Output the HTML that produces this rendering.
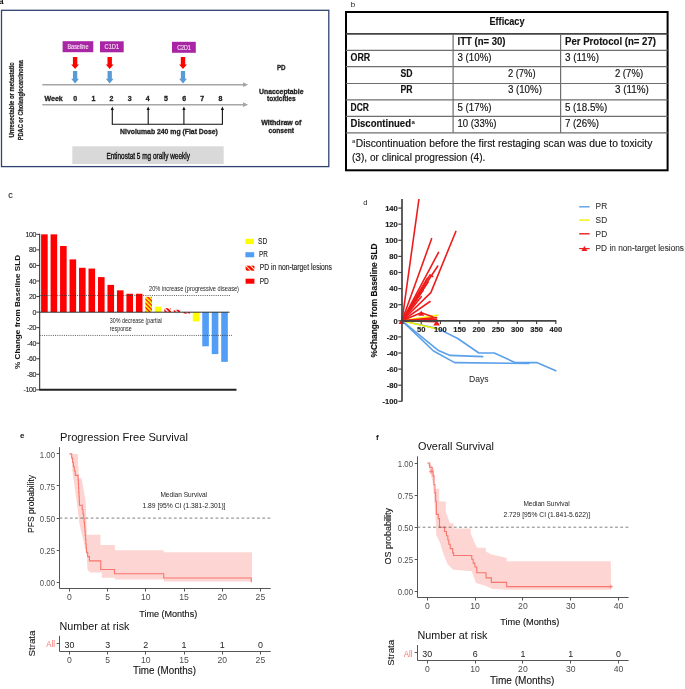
<!DOCTYPE html><html><head><meta charset="utf-8"><style>html,body{margin:0;padding:0;background:#fff;width:685px;height:689px;overflow:hidden}svg{display:block;will-change:transform;font-family:"Liberation Sans",sans-serif}</style></head><body><svg width="685" height="689" viewBox="0 0 685 689"><text x="-1.20" y="3.90" font-size="8.5" font-weight="bold" >a</text>
<rect x="1.5" y="10.3" width="327.3" height="156.3" fill="none" stroke="#2f4470" stroke-width="1.3"/>
<text x="14.40" y="100.00" font-size="7.2" stroke="#222" stroke-width="0.25" font-weight="bold" text-anchor="middle" fill="#222" textLength="75.00" lengthAdjust="spacingAndGlyphs" transform="rotate(-90 14.40 100.00)" >Unresectable or metastatic</text>
<text x="22.60" y="100.20" font-size="7.2" stroke="#222" stroke-width="0.25" font-weight="bold" text-anchor="middle" fill="#222" textLength="80.00" lengthAdjust="spacingAndGlyphs" transform="rotate(-90 22.60 100.20)" >PDAC or Cholangiocarcinoma</text>
<rect x="62.60" y="41.20" width="30.70" height="11.00" fill="#a826a4" />
<text x="77.95" y="49.10" font-size="6.4" stroke="#f4dff3" stroke-width="0.15" text-anchor="middle" fill="#f4dff3" textLength="21.00" lengthAdjust="spacingAndGlyphs" >Baseline</text>
<rect x="100.00" y="41.30" width="23.70" height="11.00" fill="#a826a4" />
<text x="111.85" y="49.20" font-size="6.4" stroke="#f4dff3" stroke-width="0.15" text-anchor="middle" fill="#f4dff3" textLength="14.50" lengthAdjust="spacingAndGlyphs" >C1D1</text>
<rect x="172.00" y="41.80" width="23.80" height="11.00" fill="#a826a4" />
<text x="183.90" y="49.70" font-size="6.4" stroke="#f4dff3" stroke-width="0.15" text-anchor="middle" fill="#f4dff3" textLength="13.50" lengthAdjust="spacingAndGlyphs" >C2D1</text>
<path d="M72.90,57.00 L77.30,57.00 L77.30,64.40 L79.00,64.40 L75.10,69.00 L71.20,64.40 L72.90,64.40 Z" stroke="none" fill="#ff0000" stroke-width="1" />
<path d="M72.95,71.10 L77.25,71.10 L77.25,78.80 L79.00,78.80 L75.10,83.40 L71.20,78.80 L72.95,78.80 Z" stroke="none" fill="#5b9bd5" stroke-width="1" />
<path d="M107.50,57.00 L111.90,57.00 L111.90,64.40 L113.60,64.40 L109.70,69.00 L105.80,64.40 L107.50,64.40 Z" stroke="none" fill="#ff0000" stroke-width="1" />
<path d="M107.55,71.10 L111.85,71.10 L111.85,78.80 L113.60,78.80 L109.70,83.40 L105.80,78.80 L107.55,78.80 Z" stroke="none" fill="#5b9bd5" stroke-width="1" />
<path d="M180.80,57.00 L185.20,57.00 L185.20,64.40 L186.90,64.40 L183.00,69.00 L179.10,64.40 L180.80,64.40 Z" stroke="none" fill="#ff0000" stroke-width="1" />
<path d="M180.85,71.10 L185.15,71.10 L185.15,78.80 L186.90,78.80 L183.00,83.40 L179.10,78.80 L180.85,78.80 Z" stroke="none" fill="#5b9bd5" stroke-width="1" />
<line x1="42.30" y1="84.70" x2="245.00" y2="84.70" stroke="#a6a6a6" stroke-width="1.4" />
<path d="M243.00,82.30 L248.20,84.70 L243.00,87.10 Z" stroke="none" fill="#a6a6a6" stroke-width="1" />
<line x1="42.30" y1="104.70" x2="245.00" y2="104.70" stroke="#a6a6a6" stroke-width="1.4" />
<path d="M243.00,102.30 L248.20,104.70 L243.00,107.10 Z" stroke="none" fill="#a6a6a6" stroke-width="1" />
<text x="44.50" y="100.60" font-size="7" stroke="#222" stroke-width="0.3" font-weight="bold" fill="#222" textLength="18.30" lengthAdjust="spacingAndGlyphs" >Week</text>
<text x="75.20" y="100.60" font-size="7" stroke="#222" stroke-width="0.3" font-weight="bold" text-anchor="middle" fill="#222" >0</text>
<text x="93.35" y="100.60" font-size="7" stroke="#222" stroke-width="0.3" font-weight="bold" text-anchor="middle" fill="#222" >1</text>
<text x="111.50" y="100.60" font-size="7" stroke="#222" stroke-width="0.3" font-weight="bold" text-anchor="middle" fill="#222" >2</text>
<text x="129.65" y="100.60" font-size="7" stroke="#222" stroke-width="0.3" font-weight="bold" text-anchor="middle" fill="#222" >3</text>
<text x="147.80" y="100.60" font-size="7" stroke="#222" stroke-width="0.3" font-weight="bold" text-anchor="middle" fill="#222" >4</text>
<text x="165.95" y="100.60" font-size="7" stroke="#222" stroke-width="0.3" font-weight="bold" text-anchor="middle" fill="#222" >5</text>
<text x="184.10" y="100.60" font-size="7" stroke="#222" stroke-width="0.3" font-weight="bold" text-anchor="middle" fill="#222" >6</text>
<text x="202.25" y="100.60" font-size="7" stroke="#222" stroke-width="0.3" font-weight="bold" text-anchor="middle" fill="#222" >7</text>
<text x="220.40" y="100.60" font-size="7" stroke="#222" stroke-width="0.3" font-weight="bold" text-anchor="middle" fill="#222" >8</text>
<line x1="112.30" y1="108.60" x2="112.30" y2="124.30" stroke="#111" stroke-width="1.1" />
<path d="M110.70,110.00 L112.30,106.60 L113.90,110.00 Z" stroke="none" fill="#111" stroke-width="1" />
<line x1="148.20" y1="108.60" x2="148.20" y2="124.30" stroke="#111" stroke-width="1.1" />
<path d="M146.60,110.00 L148.20,106.60 L149.80,110.00 Z" stroke="none" fill="#111" stroke-width="1" />
<line x1="183.90" y1="108.60" x2="183.90" y2="124.30" stroke="#111" stroke-width="1.1" />
<path d="M182.30,110.00 L183.90,106.60 L185.50,110.00 Z" stroke="none" fill="#111" stroke-width="1" />
<line x1="222.40" y1="108.60" x2="222.40" y2="124.30" stroke="#111" stroke-width="1.1" />
<path d="M220.80,110.00 L222.40,106.60 L224.00,110.00 Z" stroke="none" fill="#111" stroke-width="1" />
<line x1="111.80" y1="124.30" x2="222.90" y2="124.30" stroke="#111" stroke-width="1.1" />
<text x="120.10" y="133.90" font-size="7.2" stroke="#222" stroke-width="0.3" font-weight="bold" fill="#222" textLength="97.80" lengthAdjust="spacingAndGlyphs" >Nivolumab 240 mg (Flat Dose)</text>
<rect x="72.30" y="146.30" width="151.40" height="17.70" fill="#d9d9d9" />
<text x="106.40" y="158.60" font-size="8.4" stroke="#111" stroke-width="0.35" fill="#111" textLength="83.50" lengthAdjust="spacingAndGlyphs" >Entinostat 5 mg orally weekly</text>
<text x="281.30" y="69.60" font-size="7" stroke="#222" stroke-width="0.3" font-weight="bold" text-anchor="middle" fill="#222" textLength="8.70" lengthAdjust="spacingAndGlyphs" >PD</text>
<text x="281.30" y="93.50" font-size="7" stroke="#222" stroke-width="0.3" font-weight="bold" text-anchor="middle" fill="#222" textLength="44.40" lengthAdjust="spacingAndGlyphs" >Unacceptable</text>
<text x="281.30" y="100.90" font-size="7" stroke="#222" stroke-width="0.3" font-weight="bold" text-anchor="middle" fill="#222" textLength="28.50" lengthAdjust="spacingAndGlyphs" >toxicities</text>
<text x="281.30" y="124.80" font-size="7" stroke="#222" stroke-width="0.3" font-weight="bold" text-anchor="middle" fill="#222" textLength="40.30" lengthAdjust="spacingAndGlyphs" >Withdraw of</text>
<text x="281.30" y="132.70" font-size="7" stroke="#222" stroke-width="0.3" font-weight="bold" text-anchor="middle" fill="#222" textLength="25.40" lengthAdjust="spacingAndGlyphs" >consent</text>
<text x="350.70" y="7.10" font-size="8" fill="#222" >b</text>
<rect x="346.0" y="12.0" width="321.6" height="158.3" fill="none" stroke="#000" stroke-width="2"/>
<line x1="345.80" y1="33.90" x2="667.60" y2="33.90" stroke="#444" stroke-width="1.6" />
<line x1="345.80" y1="50.40" x2="667.60" y2="50.40" stroke="#6e6e6e" stroke-width="1.2" />
<line x1="345.80" y1="66.70" x2="667.60" y2="66.70" stroke="#6e6e6e" stroke-width="1.2" />
<line x1="345.80" y1="83.50" x2="667.60" y2="83.50" stroke="#6e6e6e" stroke-width="1.2" />
<line x1="345.80" y1="99.80" x2="667.60" y2="99.80" stroke="#6e6e6e" stroke-width="1.2" />
<line x1="345.80" y1="116.30" x2="667.60" y2="116.30" stroke="#6e6e6e" stroke-width="1.2" />
<line x1="345.80" y1="132.80" x2="667.60" y2="132.80" stroke="#6e6e6e" stroke-width="1.2" />
<line x1="453.10" y1="33.90" x2="453.10" y2="132.80" stroke="#6e6e6e" stroke-width="1.2" />
<line x1="560.60" y1="33.90" x2="560.60" y2="132.80" stroke="#6e6e6e" stroke-width="1.2" />
<text x="507.00" y="24.80" font-size="10.5" stroke="#111" stroke-width="0.15" font-weight="bold" text-anchor="middle" fill="#111" textLength="35.00" lengthAdjust="spacingAndGlyphs" >Efficacy</text>
<text x="457.50" y="44.80" font-size="10.5" stroke="#111" stroke-width="0.15" font-weight="bold" fill="#111" textLength="48.00" lengthAdjust="spacingAndGlyphs" >ITT (n= 30)</text>
<text x="565.00" y="44.80" font-size="10.5" stroke="#111" stroke-width="0.15" font-weight="bold" fill="#111" textLength="91.00" lengthAdjust="spacingAndGlyphs" >Per Protocol (n= 27)</text>
<text x="350.50" y="61.00" font-size="10.5" stroke="#111" stroke-width="0.15" font-weight="bold" fill="#111" textLength="19.70" lengthAdjust="spacingAndGlyphs" >ORR</text>
<text x="457.50" y="61.00" font-size="10.5" stroke="#111" stroke-width="0.15" fill="#111" textLength="34.00" lengthAdjust="spacingAndGlyphs" >3 (10%)</text>
<text x="565.00" y="61.00" font-size="10.5" stroke="#111" stroke-width="0.15" fill="#111" textLength="34.00" lengthAdjust="spacingAndGlyphs" >3 (11%)</text>
<text x="400.60" y="77.40" font-size="10.5" stroke="#111" stroke-width="0.15" font-weight="bold" fill="#111" textLength="12.00" lengthAdjust="spacingAndGlyphs" >SD</text>
<text x="507.90" y="77.40" font-size="10.5" stroke="#111" stroke-width="0.15" fill="#111" textLength="27.70" lengthAdjust="spacingAndGlyphs" >2 (7%)</text>
<text x="614.90" y="77.40" font-size="10.5" stroke="#111" stroke-width="0.15" fill="#111" textLength="28.20" lengthAdjust="spacingAndGlyphs" >2 (7%)</text>
<text x="400.60" y="93.40" font-size="10.5" stroke="#111" stroke-width="0.15" font-weight="bold" fill="#111" textLength="12.00" lengthAdjust="spacingAndGlyphs" >PR</text>
<text x="507.90" y="93.40" font-size="10.5" stroke="#111" stroke-width="0.15" fill="#111" textLength="34.00" lengthAdjust="spacingAndGlyphs" >3 (10%)</text>
<text x="614.90" y="93.40" font-size="10.5" stroke="#111" stroke-width="0.15" fill="#111" textLength="33.90" lengthAdjust="spacingAndGlyphs" >3 (11%)</text>
<text x="350.50" y="110.70" font-size="10.5" stroke="#111" stroke-width="0.15" font-weight="bold" fill="#111" textLength="18.40" lengthAdjust="spacingAndGlyphs" >DCR</text>
<text x="457.50" y="110.70" font-size="10.5" stroke="#111" stroke-width="0.15" fill="#111" textLength="34.00" lengthAdjust="spacingAndGlyphs" >5 (17%)</text>
<text x="565.00" y="110.70" font-size="10.5" stroke="#111" stroke-width="0.15" fill="#111" textLength="42.20" lengthAdjust="spacingAndGlyphs" >5 (18.5%)</text>
<text x="350.50" y="127.20" font-size="10.5" stroke="#111" stroke-width="0.15" font-weight="bold" fill="#111" textLength="60.50" lengthAdjust="spacingAndGlyphs" >Discontinued</text>
<text x="411.40" y="123.60" font-size="6" font-weight="bold" fill="#111" >a</text>
<text x="457.50" y="127.20" font-size="10.5" stroke="#111" stroke-width="0.15" fill="#111" textLength="39.00" lengthAdjust="spacingAndGlyphs" >10 (33%)</text>
<text x="565.00" y="127.20" font-size="10.5" stroke="#111" stroke-width="0.15" fill="#111" textLength="34.00" lengthAdjust="spacingAndGlyphs" >7 (26%)</text>
<text x="352.00" y="143.00" font-size="6" fill="#111" >a</text>
<text x="355.80" y="146.50" font-size="10.8" stroke="#111" stroke-width="0.15" fill="#111" textLength="296.60" lengthAdjust="spacingAndGlyphs" >Discontinuation before the first restaging scan was due to toxicity</text>
<text x="352.00" y="160.80" font-size="10.8" stroke="#111" stroke-width="0.15" fill="#111" textLength="133.30" lengthAdjust="spacingAndGlyphs" >(3), or clinical progression (4).</text>
<text x="8.30" y="198.10" font-size="9" stroke="#222" stroke-width="0.1" fill="#222" >c</text>
<defs><pattern id="hatch" patternUnits="userSpaceOnUse" width="3" height="3" patternTransform="rotate(45)"><rect width="3" height="3" fill="#ffff00"/><rect width="3" height="1.25" fill="#ff0000"/></pattern><pattern id="hatch3" patternUnits="userSpaceOnUse" width="3.4" height="3.4" patternTransform="rotate(45)"><rect width="3.4" height="3.4" fill="#ff0000"/><rect width="3.4" height="1.0" fill="#fff8c0"/></pattern><pattern id="hatch2" patternUnits="userSpaceOnUse" width="3.2" height="3.2" patternTransform="rotate(45)"><rect width="3.2" height="3.2" fill="#ffffff"/><rect width="3.2" height="1.9" fill="#ff0000"/></pattern></defs>
<rect x="41.10" y="234.35" width="6.60" height="77.75" fill="#ff0000" />
<rect x="50.58" y="234.35" width="6.60" height="77.75" fill="#ff0000" />
<rect x="60.06" y="246.01" width="6.60" height="66.09" fill="#ff0000" />
<rect x="69.54" y="259.39" width="6.60" height="52.71" fill="#ff0000" />
<rect x="79.02" y="267.78" width="6.60" height="44.32" fill="#ff0000" />
<rect x="88.50" y="268.56" width="6.60" height="43.54" fill="#ff0000" />
<rect x="97.98" y="277.11" width="6.60" height="34.99" fill="#ff0000" />
<rect x="107.46" y="284.89" width="6.60" height="27.21" fill="#ff0000" />
<rect x="116.94" y="290.33" width="6.60" height="21.77" fill="#ff0000" />
<rect x="126.42" y="293.75" width="6.60" height="18.35" fill="#ff0000" />
<rect x="135.90" y="293.75" width="6.60" height="18.35" fill="#ff0000" />
<rect x="145.38" y="296.86" width="6.60" height="15.24" fill="url(#hatch)" />
<rect x="154.86" y="306.66" width="6.60" height="5.44" fill="#ffff00" />
<rect x="164.34" y="308.21" width="6.60" height="3.89" fill="url(#hatch2)" />
<rect x="173.82" y="309.77" width="6.60" height="2.33" fill="url(#hatch2)" />
<rect x="183.30" y="312.10" width="6.60" height="1.56" fill="url(#hatch2)" />
<rect x="192.78" y="312.10" width="6.60" height="9.33" fill="#ffff00" />
<rect x="202.26" y="312.10" width="6.60" height="34.21" fill="#529ef6" />
<rect x="211.74" y="312.10" width="6.60" height="41.99" fill="#529ef6" />
<rect x="221.22" y="312.10" width="6.60" height="49.76" fill="#529ef6" />
<line x1="39.70" y1="233.80" x2="39.70" y2="390.50" stroke="#222" stroke-width="1.0" />
<line x1="36.40" y1="234.35" x2="39.70" y2="234.35" stroke="#222" stroke-width="0.9" />
<text x="36.20" y="236.85" font-size="7" stroke="#222" stroke-width="0.12" text-anchor="end" fill="#222" letter-spacing="-0.3">100</text>
<line x1="36.40" y1="249.90" x2="39.70" y2="249.90" stroke="#222" stroke-width="0.9" />
<text x="36.20" y="252.40" font-size="7" stroke="#222" stroke-width="0.12" text-anchor="end" fill="#222" letter-spacing="-0.3">80</text>
<line x1="36.40" y1="265.45" x2="39.70" y2="265.45" stroke="#222" stroke-width="0.9" />
<text x="36.20" y="267.95" font-size="7" stroke="#222" stroke-width="0.12" text-anchor="end" fill="#222" letter-spacing="-0.3">60</text>
<line x1="36.40" y1="281.00" x2="39.70" y2="281.00" stroke="#222" stroke-width="0.9" />
<text x="36.20" y="283.50" font-size="7" stroke="#222" stroke-width="0.12" text-anchor="end" fill="#222" letter-spacing="-0.3">40</text>
<line x1="36.40" y1="296.55" x2="39.70" y2="296.55" stroke="#222" stroke-width="0.9" />
<text x="36.20" y="299.05" font-size="7" stroke="#222" stroke-width="0.12" text-anchor="end" fill="#222" letter-spacing="-0.3">20</text>
<line x1="36.40" y1="312.10" x2="39.70" y2="312.10" stroke="#222" stroke-width="0.9" />
<text x="36.20" y="314.60" font-size="7" stroke="#222" stroke-width="0.12" text-anchor="end" fill="#222" letter-spacing="-0.3">0</text>
<line x1="36.40" y1="327.65" x2="39.70" y2="327.65" stroke="#222" stroke-width="0.9" />
<text x="36.20" y="330.15" font-size="7" stroke="#222" stroke-width="0.12" text-anchor="end" fill="#222" letter-spacing="-0.3">-20</text>
<line x1="36.40" y1="343.20" x2="39.70" y2="343.20" stroke="#222" stroke-width="0.9" />
<text x="36.20" y="345.70" font-size="7" stroke="#222" stroke-width="0.12" text-anchor="end" fill="#222" letter-spacing="-0.3">-40</text>
<line x1="36.40" y1="358.75" x2="39.70" y2="358.75" stroke="#222" stroke-width="0.9" />
<text x="36.20" y="361.25" font-size="7" stroke="#222" stroke-width="0.12" text-anchor="end" fill="#222" letter-spacing="-0.3">-60</text>
<line x1="36.40" y1="374.30" x2="39.70" y2="374.30" stroke="#222" stroke-width="0.9" />
<text x="36.20" y="376.80" font-size="7" stroke="#222" stroke-width="0.12" text-anchor="end" fill="#222" letter-spacing="-0.3">-80</text>
<line x1="36.40" y1="389.85" x2="39.70" y2="389.85" stroke="#222" stroke-width="0.9" />
<text x="36.20" y="392.35" font-size="7" stroke="#222" stroke-width="0.12" text-anchor="end" fill="#222" letter-spacing="-0.3">-100</text>
<line x1="39.70" y1="312.20" x2="229.50" y2="312.20" stroke="#333" stroke-width="1.0" />
<line x1="39.70" y1="389.70" x2="236.50" y2="389.70" stroke="#222" stroke-width="2.0" />
<line x1="39.70" y1="295.50" x2="231.00" y2="295.50" stroke="#333" stroke-width="0.8" stroke-dasharray="1,1.2"/>
<line x1="39.70" y1="335.43" x2="232.00" y2="335.43" stroke="#333" stroke-width="0.8" stroke-dasharray="1,1.2"/>
<text x="149.00" y="291.20" font-size="6.6" fill="#222" textLength="90.00" lengthAdjust="spacingAndGlyphs" >20% increase (progressive disease)</text>
<text x="109.80" y="322.80" font-size="6.6" fill="#222" textLength="52.00" lengthAdjust="spacingAndGlyphs" >30% decrease (partial</text>
<text x="109.80" y="331.00" font-size="6.6" fill="#222" textLength="21.90" lengthAdjust="spacingAndGlyphs" >response</text>
<text x="20.30" y="312.00" font-size="7.7" font-weight="bold" text-anchor="middle" fill="#111" textLength="114.00" lengthAdjust="spacingAndGlyphs" transform="rotate(-90 20.30 312.00)" >% Change from Baseline SLD</text>
<rect x="245.20" y="238.80" width="8.80" height="5.30" fill="#ffff00" />
<text x="258.10" y="243.80" font-size="8.2" stroke="#222" stroke-width="0.12" fill="#222" textLength="9.20" lengthAdjust="spacingAndGlyphs" >SD</text>
<rect x="245.40" y="252.20" width="8.80" height="5.10" fill="#529ef6" />
<text x="259.00" y="257.20" font-size="8.2" stroke="#222" stroke-width="0.12" fill="#222" textLength="8.80" lengthAdjust="spacingAndGlyphs" >PR</text>
<rect x="245.60" y="265.70" width="8.80" height="5.00" fill="url(#hatch3)" />
<text x="259.70" y="270.30" font-size="8.2" stroke="#222" stroke-width="0.12" fill="#222" textLength="72.30" lengthAdjust="spacingAndGlyphs" >PD in non-target lesions</text>
<rect x="245.60" y="278.70" width="8.80" height="5.00" fill="#ff0000" />
<text x="259.70" y="284.00" font-size="8.2" stroke="#222" stroke-width="0.12" fill="#222" textLength="9.20" lengthAdjust="spacingAndGlyphs" >PD</text>
<text x="363.20" y="204.60" font-size="7.5" fill="#222" >d</text>
<defs><clipPath id="dclip"><rect x="395" y="199" width="200" height="210"/></clipPath></defs>
<g clip-path="url(#dclip)" stroke-linejoin="round" stroke-linecap="round" fill="none">
<path d="M402.00,320.80 L438.53,328.85 L457.75,338.51 L478.90,353.00 L494.28,353.00 L515.43,362.66 L537.34,362.66 L555.80,370.71" stroke="#5aa0ea" fill="none" stroke-width="1.6" />
<path d="M402.00,320.80 L438.53,350.59 L450.06,355.42 L482.75,356.62" stroke="#5aa0ea" fill="none" stroke-width="1.6" />
<path d="M402.00,320.80 L433.53,350.99 L454.68,362.66 L528.88,363.47" stroke="#5aa0ea" fill="none" stroke-width="1.6" />
<path d="M402.00,320.80 L438.53,329.25" stroke="#f2f200" fill="none" stroke-width="1.6" />
<path d="M402.00,320.80 L437.76,315.17" stroke="#f2f200" fill="none" stroke-width="1.6" />
<path d="M402.00,320.80 L434.68,316.78" stroke="#f2f200" fill="none" stroke-width="1.3" />
<path d="M402.00,320.80 L418.92,199.25" stroke="#ee1c1c" fill="none" stroke-width="1.6" />
<path d="M402.00,320.80 L431.61,238.69" stroke="#ee1c1c" fill="none" stroke-width="1.6" />
<path d="M402.00,320.80 L438.53,252.38" stroke="#ee1c1c" fill="none" stroke-width="1.6" />
<path d="M402.00,320.80 L430.84,292.62 L455.83,231.44" stroke="#ee1c1c" fill="none" stroke-width="1.6" />
<path d="M402.00,320.80 L437.76,266.06" stroke="#ee1c1c" fill="none" stroke-width="1.6" />
<path d="M402.00,320.80 L430.07,274.92 L432.76,276.52" stroke="#ee1c1c" fill="none" stroke-width="1.6" />
<path d="M402.00,320.80 L428.15,282.16" stroke="#ee1c1c" fill="none" stroke-width="1.6" />
<path d="M402.00,320.80 L425.07,286.19" stroke="#ee1c1c" fill="none" stroke-width="1.6" />
<path d="M402.00,320.80 L427.38,278.13" stroke="#ee1c1c" fill="none" stroke-width="1.6" />
<path d="M402.00,320.80 L423.15,290.21" stroke="#ee1c1c" fill="none" stroke-width="1.6" />
<path d="M402.00,320.80 L421.23,296.65" stroke="#ee1c1c" fill="none" stroke-width="1.6" />
<path d="M402.00,320.80 L430.07,301.48" stroke="#ee1c1c" fill="none" stroke-width="1.6" />
<path d="M402.00,320.80 L421.23,312.75 L432.76,316.78" stroke="#ee1c1c" fill="none" stroke-width="1.6" />
<path d="M402.00,320.80 L436.61,317.58" stroke="#ee1c1c" fill="none" stroke-width="1.6" />
<path d="M402.00,320.80 L436.61,319.19" stroke="#ee1c1c" fill="none" stroke-width="1.6" />
<path d="M402.00,320.80 L435.84,321.61" stroke="#ee1c1c" fill="none" stroke-width="1.6" />
<path d="M402.00,320.80 L436.61,320.80" stroke="#6a1a1a" fill="none" stroke-width="1.4" />
</g>
<path d="M418.23,315.65 L421.23,310.55 L424.23,315.65 Z" stroke="none" fill="#ee1c1c" stroke-width="1" />
<path d="M433.31,325.45 L436.61,319.84 L439.91,325.45 Z" stroke="none" fill="#ee1c1c" stroke-width="1" />
<path d="M398.50,324.00 L401.50,318.91 L404.50,324.00 Z" stroke="none" fill="#ee1c1c" stroke-width="1" />
<line x1="402.00" y1="199.00" x2="402.00" y2="401.60" stroke="#444" stroke-width="1.7" />
<line x1="398.30" y1="208.10" x2="402.00" y2="208.10" stroke="#444" stroke-width="1.2" />
<text x="397.80" y="210.90" font-size="7.6" stroke="#222" stroke-width="0.15" font-weight="bold" text-anchor="end" fill="#222" >140</text>
<line x1="398.30" y1="224.20" x2="402.00" y2="224.20" stroke="#444" stroke-width="1.2" />
<text x="397.80" y="227.00" font-size="7.6" stroke="#222" stroke-width="0.15" font-weight="bold" text-anchor="end" fill="#222" >120</text>
<line x1="398.30" y1="240.30" x2="402.00" y2="240.30" stroke="#444" stroke-width="1.2" />
<text x="397.80" y="243.10" font-size="7.6" stroke="#222" stroke-width="0.15" font-weight="bold" text-anchor="end" fill="#222" >100</text>
<line x1="398.30" y1="256.40" x2="402.00" y2="256.40" stroke="#444" stroke-width="1.2" />
<text x="397.80" y="259.20" font-size="7.6" stroke="#222" stroke-width="0.15" font-weight="bold" text-anchor="end" fill="#222" >80</text>
<line x1="398.30" y1="272.50" x2="402.00" y2="272.50" stroke="#444" stroke-width="1.2" />
<text x="397.80" y="275.30" font-size="7.6" stroke="#222" stroke-width="0.15" font-weight="bold" text-anchor="end" fill="#222" >60</text>
<line x1="398.30" y1="288.60" x2="402.00" y2="288.60" stroke="#444" stroke-width="1.2" />
<text x="397.80" y="291.40" font-size="7.6" stroke="#222" stroke-width="0.15" font-weight="bold" text-anchor="end" fill="#222" >40</text>
<line x1="398.30" y1="304.70" x2="402.00" y2="304.70" stroke="#444" stroke-width="1.2" />
<text x="397.80" y="307.50" font-size="7.6" stroke="#222" stroke-width="0.15" font-weight="bold" text-anchor="end" fill="#222" >20</text>
<line x1="398.30" y1="320.80" x2="402.00" y2="320.80" stroke="#444" stroke-width="1.2" />
<text x="397.80" y="323.60" font-size="7.6" stroke="#222" stroke-width="0.15" font-weight="bold" text-anchor="end" fill="#222" >0</text>
<line x1="398.30" y1="336.90" x2="402.00" y2="336.90" stroke="#444" stroke-width="1.2" />
<text x="397.80" y="339.70" font-size="7.6" stroke="#222" stroke-width="0.15" font-weight="bold" text-anchor="end" fill="#222" >-20</text>
<line x1="398.30" y1="353.00" x2="402.00" y2="353.00" stroke="#444" stroke-width="1.2" />
<text x="397.80" y="355.80" font-size="7.6" stroke="#222" stroke-width="0.15" font-weight="bold" text-anchor="end" fill="#222" >-40</text>
<line x1="398.30" y1="369.10" x2="402.00" y2="369.10" stroke="#444" stroke-width="1.2" />
<text x="397.80" y="371.90" font-size="7.6" stroke="#222" stroke-width="0.15" font-weight="bold" text-anchor="end" fill="#222" >-60</text>
<line x1="398.30" y1="385.20" x2="402.00" y2="385.20" stroke="#444" stroke-width="1.2" />
<text x="397.80" y="388.00" font-size="7.6" stroke="#222" stroke-width="0.15" font-weight="bold" text-anchor="end" fill="#222" >-80</text>
<line x1="398.30" y1="401.30" x2="402.00" y2="401.30" stroke="#444" stroke-width="1.2" />
<text x="397.80" y="404.10" font-size="7.6" stroke="#222" stroke-width="0.15" font-weight="bold" text-anchor="end" fill="#222" >-100</text>
<line x1="402.00" y1="320.80" x2="556.30" y2="320.80" stroke="#444" stroke-width="1.7" />
<line x1="421.23" y1="320.80" x2="421.23" y2="324.10" stroke="#444" stroke-width="1.2" />
<text x="421.23" y="332.00" font-size="7.6" stroke="#222" stroke-width="0.15" font-weight="bold" text-anchor="middle" fill="#222" >50</text>
<line x1="440.45" y1="320.80" x2="440.45" y2="324.10" stroke="#444" stroke-width="1.2" />
<text x="440.45" y="332.00" font-size="7.6" stroke="#222" stroke-width="0.15" font-weight="bold" text-anchor="middle" fill="#222" >100</text>
<line x1="459.68" y1="320.80" x2="459.68" y2="324.10" stroke="#444" stroke-width="1.2" />
<text x="459.68" y="332.00" font-size="7.6" stroke="#222" stroke-width="0.15" font-weight="bold" text-anchor="middle" fill="#222" >150</text>
<line x1="478.90" y1="320.80" x2="478.90" y2="324.10" stroke="#444" stroke-width="1.2" />
<text x="478.90" y="332.00" font-size="7.6" stroke="#222" stroke-width="0.15" font-weight="bold" text-anchor="middle" fill="#222" >200</text>
<line x1="498.12" y1="320.80" x2="498.12" y2="324.10" stroke="#444" stroke-width="1.2" />
<text x="498.12" y="332.00" font-size="7.6" stroke="#222" stroke-width="0.15" font-weight="bold" text-anchor="middle" fill="#222" >250</text>
<line x1="517.35" y1="320.80" x2="517.35" y2="324.10" stroke="#444" stroke-width="1.2" />
<text x="517.35" y="332.00" font-size="7.6" stroke="#222" stroke-width="0.15" font-weight="bold" text-anchor="middle" fill="#222" >300</text>
<line x1="536.58" y1="320.80" x2="536.58" y2="324.10" stroke="#444" stroke-width="1.2" />
<text x="536.58" y="332.00" font-size="7.6" stroke="#222" stroke-width="0.15" font-weight="bold" text-anchor="middle" fill="#222" >350</text>
<line x1="555.80" y1="320.80" x2="555.80" y2="324.10" stroke="#444" stroke-width="1.2" />
<text x="555.80" y="332.00" font-size="7.6" stroke="#222" stroke-width="0.15" font-weight="bold" text-anchor="middle" fill="#222" >400</text>
<text x="478.80" y="382.00" font-size="8.6" text-anchor="middle" fill="#222" >Days</text>
<text x="376.80" y="300.40" font-size="8.2" stroke="#111" stroke-width="0.15" font-weight="bold" text-anchor="middle" fill="#111" textLength="114.00" lengthAdjust="spacingAndGlyphs" transform="rotate(-90 376.80 300.40)" >%Change from Baseline SLD</text>
<line x1="579.20" y1="206.80" x2="589.60" y2="206.80" stroke="#5aa0ea" stroke-width="1.4" />
<text x="595.60" y="209.40" font-size="8.3" stroke="#333" stroke-width="0.1" fill="#333" >PR</text>
<line x1="579.20" y1="220.10" x2="589.60" y2="220.10" stroke="#f2f200" stroke-width="1.4" />
<text x="595.60" y="223.00" font-size="8.3" stroke="#333" stroke-width="0.1" fill="#333" >SD</text>
<line x1="579.20" y1="233.80" x2="589.60" y2="233.80" stroke="#ee1c1c" stroke-width="1.4" />
<text x="595.60" y="236.70" font-size="8.3" stroke="#333" stroke-width="0.1" fill="#333" >PD</text>
<line x1="579.20" y1="248.60" x2="589.60" y2="248.60" stroke="#ee1c1c" stroke-width="1.2" />
<path d="M581.40,251.00 L584.40,245.90 L587.40,251.00 Z" stroke="none" fill="#ee1c1c" stroke-width="1" />
<text x="595.60" y="250.90" font-size="8.3" stroke="#333" stroke-width="0.1" fill="#333" textLength="88.40" lengthAdjust="spacingAndGlyphs" >PD in non-target lesions</text>
<text x="20.00" y="438.20" font-size="8" font-weight="bold" fill="#111" >e</text>
<text x="60.00" y="441.20" font-size="10.5" fill="#111" textLength="128.00" lengthAdjust="spacingAndGlyphs" >Progression Free Survival</text>
<path d="M71.23,453.90 L77.88,453.90 L78.87,478.30 L81.62,478.30 L85.52,500.12 L86.82,529.66 L86.82,534.79 L100.49,534.79 L100.49,545.06 L114.86,545.06 L114.86,550.20 L163.75,550.20 L163.75,552.13 L252.00,552.13 L252.00,581.40 L163.75,581.40 L163.75,579.48 L114.86,579.48 L114.86,577.68 L101.79,577.68 L101.79,572.54 L90.03,572.54 L87.43,569.46 L86.82,556.23 L84.22,544.42 L79.64,524.78 L75.28,491.14 L72.30,470.59 L71.77,459.04 L71.23,453.90 Z" stroke="none" fill="#fdd5d2" stroke-width="1" />
<path d="M69.40,453.90 L71.69,453.90 L71.69,458.14 L72.61,458.14 L72.61,462.50 L73.45,462.50 L73.45,466.74 L74.37,466.74 L74.37,470.98 L75.28,470.98 L75.28,475.34 L78.11,475.34 L78.11,479.58 L78.34,479.58 L78.34,483.82 L78.57,483.82 L78.57,488.18 L78.80,488.18 L78.80,492.42 L79.03,492.42 L79.03,496.66 L79.26,496.66 L79.26,501.02 L79.41,501.02 L79.41,505.26 L82.24,505.26 L82.24,509.50 L83.00,509.50 L83.00,513.86 L83.69,513.86 L83.69,518.10 L84.15,518.10 L84.15,522.34 L84.53,522.34 L84.53,526.70 L84.91,526.70 L84.91,530.94 L85.21,530.94 L85.21,535.18 L85.60,535.18 L85.60,539.54 L85.90,539.54 L85.90,543.78 L86.21,543.78 L86.21,548.02 L86.51,548.02 L86.51,552.38 L87.74,552.38 L87.74,556.62 L89.42,556.62 L89.42,560.86 L100.72,560.86 L100.72,569.46 L114.48,569.46 L114.48,573.70 L163.75,573.70 L163.75,578.06 L251.23,578.06 L251.23,582.30 L251.23,582.30" stroke="#f8766d" fill="none" stroke-width="1.1" stroke-linejoin="miter"/>
<line x1="59.50" y1="518.10" x2="270.70" y2="518.10" stroke="#555" stroke-width="0.75" stroke-dasharray="2.8,2.4"/>
<line x1="59.50" y1="447.20" x2="59.50" y2="588.50" stroke="#555555" stroke-width="1.0" />
<line x1="59.50" y1="588.50" x2="270.70" y2="588.50" stroke="#555555" stroke-width="1.0" />
<line x1="56.70" y1="453.50" x2="59.50" y2="453.50" stroke="#555555" stroke-width="1.0" />
<text x="55.00" y="457.70" font-size="9.2" text-anchor="end" fill="#4d4d4d" textLength="15.20" lengthAdjust="spacingAndGlyphs" >1.00</text>
<line x1="56.70" y1="485.50" x2="59.50" y2="485.50" stroke="#555555" stroke-width="1.0" />
<text x="55.00" y="489.80" font-size="9.2" text-anchor="end" fill="#4d4d4d" textLength="15.20" lengthAdjust="spacingAndGlyphs" >0.75</text>
<line x1="56.70" y1="518.50" x2="59.50" y2="518.50" stroke="#555555" stroke-width="1.0" />
<text x="55.00" y="521.90" font-size="9.2" text-anchor="end" fill="#4d4d4d" textLength="15.20" lengthAdjust="spacingAndGlyphs" >0.50</text>
<line x1="56.70" y1="550.50" x2="59.50" y2="550.50" stroke="#555555" stroke-width="1.0" />
<text x="55.00" y="554.00" font-size="9.2" text-anchor="end" fill="#4d4d4d" textLength="15.20" lengthAdjust="spacingAndGlyphs" >0.25</text>
<line x1="56.70" y1="582.50" x2="59.50" y2="582.50" stroke="#555555" stroke-width="1.0" />
<text x="55.00" y="586.10" font-size="9.2" text-anchor="end" fill="#4d4d4d" textLength="15.20" lengthAdjust="spacingAndGlyphs" >0.00</text>
<line x1="69.50" y1="588.50" x2="69.50" y2="591.50" stroke="#555555" stroke-width="1.0" />
<text x="69.40" y="599.80" font-size="8.8" text-anchor="middle" fill="#4d4d4d" textLength="4.80" lengthAdjust="spacingAndGlyphs" >0</text>
<line x1="107.50" y1="588.50" x2="107.50" y2="591.50" stroke="#555555" stroke-width="1.0" />
<text x="107.60" y="599.80" font-size="8.8" text-anchor="middle" fill="#4d4d4d" textLength="4.80" lengthAdjust="spacingAndGlyphs" >5</text>
<line x1="145.50" y1="588.50" x2="145.50" y2="591.50" stroke="#555555" stroke-width="1.0" />
<text x="145.80" y="599.80" font-size="8.8" text-anchor="middle" fill="#4d4d4d" textLength="9.60" lengthAdjust="spacingAndGlyphs" >10</text>
<line x1="184.50" y1="588.50" x2="184.50" y2="591.50" stroke="#555555" stroke-width="1.0" />
<text x="184.00" y="599.80" font-size="8.8" text-anchor="middle" fill="#4d4d4d" textLength="9.60" lengthAdjust="spacingAndGlyphs" >15</text>
<line x1="222.50" y1="588.50" x2="222.50" y2="591.50" stroke="#555555" stroke-width="1.0" />
<text x="222.20" y="599.80" font-size="8.8" text-anchor="middle" fill="#4d4d4d" textLength="9.60" lengthAdjust="spacingAndGlyphs" >20</text>
<line x1="260.50" y1="588.50" x2="260.50" y2="591.50" stroke="#555555" stroke-width="1.0" />
<text x="260.40" y="599.80" font-size="8.8" text-anchor="middle" fill="#4d4d4d" textLength="9.60" lengthAdjust="spacingAndGlyphs" >25</text>
<text x="34.00" y="503.90" font-size="9.2" stroke="#111" stroke-width="0.1" text-anchor="middle" fill="#111" textLength="58.10" lengthAdjust="spacingAndGlyphs" transform="rotate(-90 34.00 503.90)" >PFS probability</text>
<text x="160.40" y="497.40" font-size="6.3" fill="#222" textLength="46.70" lengthAdjust="spacingAndGlyphs" >Median Survival</text>
<text x="142.50" y="507.60" font-size="6.3" fill="#222" textLength="83.00" lengthAdjust="spacingAndGlyphs" >1.89 [95% CI (1.381-2.301)]</text>
<text x="139.20" y="616.60" font-size="9.2" stroke="#111" stroke-width="0.12" fill="#111" textLength="58.00" lengthAdjust="spacingAndGlyphs" >Time (Months)</text>
<text x="59.50" y="629.90" font-size="10.5" fill="#111" textLength="70.00" lengthAdjust="spacingAndGlyphs" >Number at risk</text>
<text x="35.30" y="643.50" font-size="9.6" stroke="#111" stroke-width="0.1" text-anchor="middle" fill="#111" textLength="25.80" lengthAdjust="spacingAndGlyphs" transform="rotate(-90 35.30 643.50)" >Strata</text>
<text x="46.30" y="647.20" font-size="8.8" fill="#f8766d" textLength="8.70" lengthAdjust="spacingAndGlyphs" >All</text>
<line x1="59.50" y1="635.80" x2="59.50" y2="651.50" stroke="#555555" stroke-width="1.0" />
<line x1="56.70" y1="643.50" x2="59.50" y2="643.50" stroke="#555555" stroke-width="1.0" />
<line x1="59.50" y1="651.50" x2="270.70" y2="651.50" stroke="#555555" stroke-width="1.0" />
<text x="69.40" y="647.90" font-size="9.6" text-anchor="middle" fill="#222" textLength="9.90" lengthAdjust="spacingAndGlyphs" >30</text>
<line x1="69.50" y1="651.50" x2="69.50" y2="654.50" stroke="#555555" stroke-width="1.0" />
<text x="69.40" y="662.60" font-size="8.8" text-anchor="middle" fill="#4d4d4d" textLength="4.80" lengthAdjust="spacingAndGlyphs" >0</text>
<text x="107.60" y="647.90" font-size="9.6" text-anchor="middle" fill="#222" textLength="4.95" lengthAdjust="spacingAndGlyphs" >3</text>
<line x1="107.50" y1="651.50" x2="107.50" y2="654.50" stroke="#555555" stroke-width="1.0" />
<text x="107.60" y="662.60" font-size="8.8" text-anchor="middle" fill="#4d4d4d" textLength="4.80" lengthAdjust="spacingAndGlyphs" >5</text>
<text x="145.80" y="647.90" font-size="9.6" text-anchor="middle" fill="#222" textLength="4.95" lengthAdjust="spacingAndGlyphs" >2</text>
<line x1="145.50" y1="651.50" x2="145.50" y2="654.50" stroke="#555555" stroke-width="1.0" />
<text x="145.80" y="662.60" font-size="8.8" text-anchor="middle" fill="#4d4d4d" textLength="9.60" lengthAdjust="spacingAndGlyphs" >10</text>
<text x="184.00" y="647.90" font-size="9.6" text-anchor="middle" fill="#222" textLength="4.95" lengthAdjust="spacingAndGlyphs" >1</text>
<line x1="184.50" y1="651.50" x2="184.50" y2="654.50" stroke="#555555" stroke-width="1.0" />
<text x="184.00" y="662.60" font-size="8.8" text-anchor="middle" fill="#4d4d4d" textLength="9.60" lengthAdjust="spacingAndGlyphs" >15</text>
<text x="222.20" y="647.90" font-size="9.6" text-anchor="middle" fill="#222" textLength="4.95" lengthAdjust="spacingAndGlyphs" >1</text>
<line x1="222.50" y1="651.50" x2="222.50" y2="654.50" stroke="#555555" stroke-width="1.0" />
<text x="222.20" y="662.60" font-size="8.8" text-anchor="middle" fill="#4d4d4d" textLength="9.60" lengthAdjust="spacingAndGlyphs" >20</text>
<text x="260.40" y="647.90" font-size="9.6" text-anchor="middle" fill="#222" textLength="4.95" lengthAdjust="spacingAndGlyphs" >0</text>
<line x1="260.50" y1="651.50" x2="260.50" y2="654.50" stroke="#555555" stroke-width="1.0" />
<text x="260.40" y="662.60" font-size="8.8" text-anchor="middle" fill="#4d4d4d" textLength="9.60" lengthAdjust="spacingAndGlyphs" >25</text>
<text x="133.00" y="673.80" font-size="10.3" stroke="#111" stroke-width="0.1" fill="#111" textLength="63.00" lengthAdjust="spacingAndGlyphs" >Time (Months)</text>
<text x="376.00" y="439.60" font-size="8" font-weight="bold" fill="#111" >f</text>
<text x="418.00" y="449.60" font-size="10.5" fill="#111" textLength="76.00" lengthAdjust="spacingAndGlyphs" >Overall Survival</text>
<path d="M427.78,463.00 L429.83,463.00 L434.18,469.42 L434.18,488.68 L439.20,488.68 L439.20,501.52 L445.70,501.52 L445.70,511.79 L449.91,523.35 L453.59,523.35 L453.59,528.48 L470.80,528.48 L470.80,533.62 L474.43,542.61 L477.25,547.74 L485.81,547.74 L485.81,551.60 L490.87,554.16 L506.65,558.02 L506.65,561.23 L610.85,561.23 L610.85,589.86 L506.65,589.86 L491.83,588.83 L486.09,585.88 L476.06,583.05 L471.75,571.24 L453.26,569.83 L447.47,563.92 L443.55,554.16 L439.87,542.61 L436.33,534.90 L435.57,516.29 L432.70,482.00 L430.55,474.04 L428.73,466.85 L427.78,463.00 Z" stroke="none" fill="#fdd5d2" stroke-width="1" />
<path d="M427.30,463.00 L429.69,463.00 L429.69,467.24 L432.08,467.24 L432.08,471.60 L433.04,471.60 L433.04,475.84 L433.99,475.84 L433.99,484.44 L434.95,484.44 L434.95,492.92 L435.67,492.92 L435.67,501.52 L436.38,501.52 L436.38,514.36 L438.29,514.36 L438.29,518.60 L439.49,518.60 L439.49,527.20 L444.51,527.20 L444.51,531.44 L446.42,531.44 L446.42,535.80 L447.85,535.80 L447.85,540.04 L448.81,540.04 L448.81,544.28 L450.24,544.28 L450.24,548.64 L452.63,548.64 L452.63,552.88 L453.59,552.88 L453.59,555.45 L471.75,555.45 L471.75,559.30 L473.19,559.30 L473.19,563.15 L474.86,563.15 L474.86,567.00 L476.77,567.00 L476.77,572.78 L486.09,572.78 L486.09,577.92 L491.35,577.92 L491.35,582.41 L506.65,582.41 L506.65,586.65 L610.85,586.65" stroke="#f8766d" fill="none" stroke-width="1.1" stroke-linejoin="miter"/>
<line x1="429.12" y1="471.60" x2="433.12" y2="471.60" stroke="#f8766d" stroke-width="0.9" />
<line x1="431.12" y1="469.60" x2="431.12" y2="473.60" stroke="#f8766d" stroke-width="0.9" />
<line x1="608.85" y1="586.65" x2="612.85" y2="586.65" stroke="#f8766d" stroke-width="0.9" />
<line x1="610.85" y1="584.65" x2="610.85" y2="588.65" stroke="#f8766d" stroke-width="0.9" />
<line x1="417.50" y1="527.20" x2="628.60" y2="527.20" stroke="#555" stroke-width="0.75" stroke-dasharray="2.8,2.4"/>
<line x1="417.50" y1="456.30" x2="417.50" y2="597.50" stroke="#555555" stroke-width="1.0" />
<line x1="417.50" y1="597.50" x2="628.60" y2="597.50" stroke="#555555" stroke-width="1.0" />
<line x1="414.70" y1="463.50" x2="417.50" y2="463.50" stroke="#555555" stroke-width="1.0" />
<text x="413.00" y="466.80" font-size="9.2" text-anchor="end" fill="#4d4d4d" textLength="15.20" lengthAdjust="spacingAndGlyphs" >1.00</text>
<line x1="414.70" y1="495.50" x2="417.50" y2="495.50" stroke="#555555" stroke-width="1.0" />
<text x="413.00" y="498.90" font-size="9.2" text-anchor="end" fill="#4d4d4d" textLength="15.20" lengthAdjust="spacingAndGlyphs" >0.75</text>
<line x1="414.70" y1="527.50" x2="417.50" y2="527.50" stroke="#555555" stroke-width="1.0" />
<text x="413.00" y="531.00" font-size="9.2" text-anchor="end" fill="#4d4d4d" textLength="15.20" lengthAdjust="spacingAndGlyphs" >0.50</text>
<line x1="414.70" y1="559.50" x2="417.50" y2="559.50" stroke="#555555" stroke-width="1.0" />
<text x="413.00" y="563.10" font-size="9.2" text-anchor="end" fill="#4d4d4d" textLength="15.20" lengthAdjust="spacingAndGlyphs" >0.25</text>
<line x1="414.70" y1="591.50" x2="417.50" y2="591.50" stroke="#555555" stroke-width="1.0" />
<text x="413.00" y="595.20" font-size="9.2" text-anchor="end" fill="#4d4d4d" textLength="15.20" lengthAdjust="spacingAndGlyphs" >0.00</text>
<line x1="427.50" y1="597.50" x2="427.50" y2="600.50" stroke="#555555" stroke-width="1.0" />
<text x="427.30" y="608.90" font-size="8.8" text-anchor="middle" fill="#4d4d4d" textLength="4.80" lengthAdjust="spacingAndGlyphs" >0</text>
<line x1="475.50" y1="597.50" x2="475.50" y2="600.50" stroke="#555555" stroke-width="1.0" />
<text x="475.10" y="608.90" font-size="8.8" text-anchor="middle" fill="#4d4d4d" textLength="9.60" lengthAdjust="spacingAndGlyphs" >10</text>
<line x1="522.50" y1="597.50" x2="522.50" y2="600.50" stroke="#555555" stroke-width="1.0" />
<text x="522.90" y="608.90" font-size="8.8" text-anchor="middle" fill="#4d4d4d" textLength="9.60" lengthAdjust="spacingAndGlyphs" >20</text>
<line x1="570.50" y1="597.50" x2="570.50" y2="600.50" stroke="#555555" stroke-width="1.0" />
<text x="570.70" y="608.90" font-size="8.8" text-anchor="middle" fill="#4d4d4d" textLength="9.60" lengthAdjust="spacingAndGlyphs" >30</text>
<line x1="618.50" y1="597.50" x2="618.50" y2="600.50" stroke="#555555" stroke-width="1.0" />
<text x="618.50" y="608.90" font-size="8.8" text-anchor="middle" fill="#4d4d4d" textLength="9.60" lengthAdjust="spacingAndGlyphs" >40</text>
<text x="391.00" y="536.30" font-size="9.2" stroke="#111" stroke-width="0.1" text-anchor="middle" fill="#111" textLength="56.40" lengthAdjust="spacingAndGlyphs" transform="rotate(-90 391.00 536.30)" >OS probability</text>
<text x="523.40" y="506.20" font-size="6.3" fill="#222" textLength="46.20" lengthAdjust="spacingAndGlyphs" >Median Survival</text>
<text x="503.50" y="516.90" font-size="6.3" fill="#222" textLength="86.50" lengthAdjust="spacingAndGlyphs" >2.729 [95% CI (1.841-5.622)]</text>
<text x="500.30" y="625.00" font-size="9.2" stroke="#111" stroke-width="0.12" fill="#111" textLength="59.00" lengthAdjust="spacingAndGlyphs" >Time (Months)</text>
<text x="417.50" y="639.00" font-size="10.5" fill="#111" textLength="70.00" lengthAdjust="spacingAndGlyphs" >Number at risk</text>
<text x="394.00" y="652.80" font-size="9.6" stroke="#111" stroke-width="0.1" text-anchor="middle" fill="#111" textLength="25.80" lengthAdjust="spacingAndGlyphs" transform="rotate(-90 394.00 652.80)" >Strata</text>
<text x="403.80" y="656.60" font-size="8.8" fill="#f8766d" textLength="8.70" lengthAdjust="spacingAndGlyphs" >All</text>
<line x1="417.50" y1="645.00" x2="417.50" y2="660.50" stroke="#555555" stroke-width="1.0" />
<line x1="414.70" y1="652.50" x2="417.50" y2="652.50" stroke="#555555" stroke-width="1.0" />
<line x1="417.50" y1="660.50" x2="628.60" y2="660.50" stroke="#555555" stroke-width="1.0" />
<text x="427.30" y="657.30" font-size="9.6" text-anchor="middle" fill="#222" textLength="9.90" lengthAdjust="spacingAndGlyphs" >30</text>
<line x1="427.50" y1="660.50" x2="427.50" y2="663.50" stroke="#555555" stroke-width="1.0" />
<text x="427.30" y="672.20" font-size="8.8" text-anchor="middle" fill="#4d4d4d" textLength="4.80" lengthAdjust="spacingAndGlyphs" >0</text>
<text x="475.10" y="657.30" font-size="9.6" text-anchor="middle" fill="#222" textLength="4.95" lengthAdjust="spacingAndGlyphs" >6</text>
<line x1="475.50" y1="660.50" x2="475.50" y2="663.50" stroke="#555555" stroke-width="1.0" />
<text x="475.10" y="672.20" font-size="8.8" text-anchor="middle" fill="#4d4d4d" textLength="9.60" lengthAdjust="spacingAndGlyphs" >10</text>
<text x="522.90" y="657.30" font-size="9.6" text-anchor="middle" fill="#222" textLength="4.95" lengthAdjust="spacingAndGlyphs" >1</text>
<line x1="522.50" y1="660.50" x2="522.50" y2="663.50" stroke="#555555" stroke-width="1.0" />
<text x="522.90" y="672.20" font-size="8.8" text-anchor="middle" fill="#4d4d4d" textLength="9.60" lengthAdjust="spacingAndGlyphs" >20</text>
<text x="570.70" y="657.30" font-size="9.6" text-anchor="middle" fill="#222" textLength="4.95" lengthAdjust="spacingAndGlyphs" >1</text>
<line x1="570.50" y1="660.50" x2="570.50" y2="663.50" stroke="#555555" stroke-width="1.0" />
<text x="570.70" y="672.20" font-size="8.8" text-anchor="middle" fill="#4d4d4d" textLength="9.60" lengthAdjust="spacingAndGlyphs" >30</text>
<text x="618.50" y="657.30" font-size="9.6" text-anchor="middle" fill="#222" textLength="4.95" lengthAdjust="spacingAndGlyphs" >0</text>
<line x1="618.50" y1="660.50" x2="618.50" y2="663.50" stroke="#555555" stroke-width="1.0" />
<text x="618.50" y="672.20" font-size="8.8" text-anchor="middle" fill="#4d4d4d" textLength="9.60" lengthAdjust="spacingAndGlyphs" >40</text>
<text x="489.90" y="683.60" font-size="10.3" stroke="#111" stroke-width="0.1" fill="#111" textLength="64.50" lengthAdjust="spacingAndGlyphs" >Time (Months)</text></svg></body></html>
